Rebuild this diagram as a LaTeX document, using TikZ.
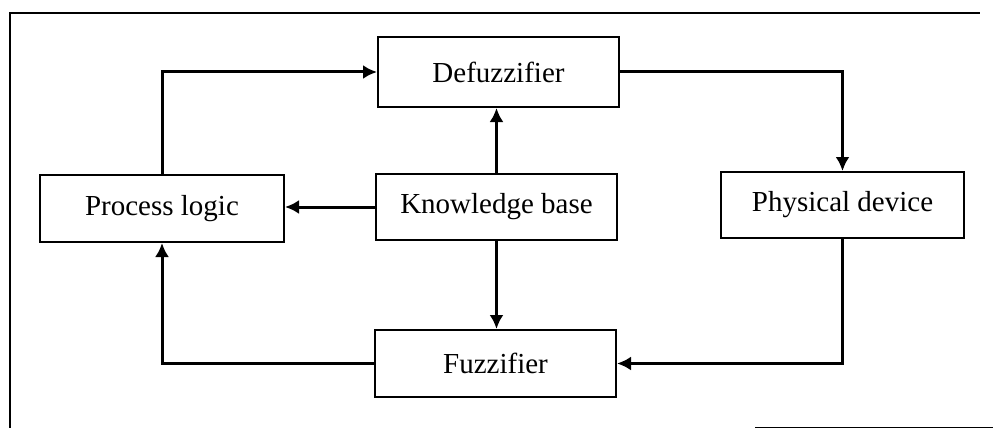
\documentclass[tikz,border=0pt]{standalone}
\usepackage{fontspec}
\setmainfont{Liberation Serif}
\usetikzlibrary{arrows.meta}
\begin{document}
\begin{tikzpicture}[x=1pt,y=-1pt,
  blk/.style={draw,line width=2pt,rectangle,inner sep=0pt,font=\fontsize{29}{32}\selectfont},
  conn/.style={line width=3pt,-{Latex[length=14pt,width=14pt]}}]
\useasboundingbox (0,0) rectangle (993,428);
% frame
\draw[line width=1.5pt] (9,13) -- (980,13);
\draw[line width=1.5pt] (10,13) -- (10,428);
\draw[line width=1pt] (755,427) -- (993,427);
% boxes
\node[blk,minimum width=241pt,minimum height=70pt] (df) at (498.5,72) {Defuzzifier};
\node[blk,minimum width=241pt,minimum height=66pt] (kb) at (496.5,207) {Knowledge base};
\node[blk,minimum width=244pt,minimum height=67pt] (pl) at (162,208.5) {Process logic};
\node[blk,minimum width=243pt,minimum height=66pt] (pd) at (842.5,205) {Physical device};
\node[blk,minimum width=241pt,minimum height=67pt] (fz) at (495.5,363.5) {Fuzzifier};
% connectors
\draw[conn] (pl.north) |- (df.west);
\draw[conn] (df.east) -| (pd.north);
\draw[conn] (pd.south) |- (fz.east);
\draw[conn] (fz.west) -| (pl.south);
\draw[conn] (kb.west) -- (kb.west -| pl.east);
\draw[conn] (kb.north) -- (kb.north |- df.south);
\draw[conn] (kb.south) -- (kb.south |- fz.north);
\end{tikzpicture}
\end{document}
